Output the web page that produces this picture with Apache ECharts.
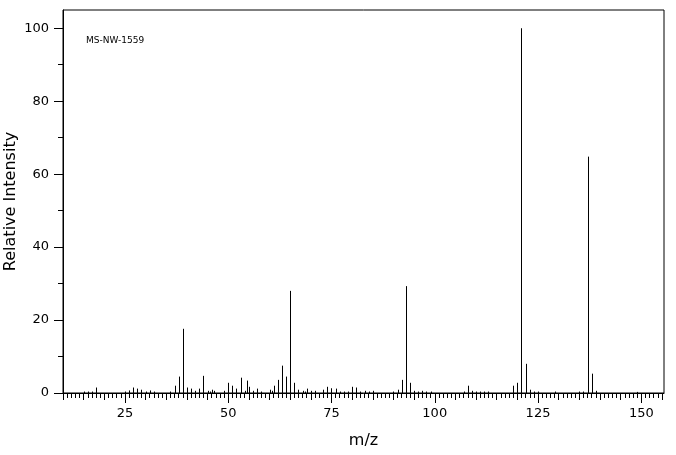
<!DOCTYPE html>
<html>
<head>
<meta charset="utf-8">
<script src="https://cdn.jsdelivr.net/npm/echarts@6/dist/echarts.min.js"></script>
<style>html,body{margin:0;padding:0;background:#fff;}#c{width:676px;height:455px;}</style>
</head>
<body>
<div id="c"></div>
<script>
// ---- data ----
const mz = [15,16,17,18,25,26,27,28,29,30,31,32,36,37,38,39,40,41,42,43,44,45,45.5,46,46.5,49,50,51,52,53,54,54.5,55,56,57,58,60,60.5,61,62,63,64,65,66,67,68,68.5,69,70,71,73,74,75,76,77,78,79,80,81,82,83,84,85,90,91,92,93,94,95,96,97,98,99,107,108,109,110,111,112,113,119,120,121,122,123,124,125,129,135,136,137,138,139,149];
const intensity = [0.4,0.4,0.4,1.5,0.4,0.7,1.5,1.2,0.9,0.4,0.7,0.4,0.4,2.0,4.5,17.6,1.5,1.2,0.6,1.2,4.7,0.6,0.4,0.9,0.6,0.6,2.8,2.0,1.2,4.2,0.6,3.4,1.7,0.6,1.2,0.4,0.9,0.6,2.0,3.6,7.5,4.5,28.0,2.8,0.9,0.6,0.4,1.2,0.6,0.6,0.9,1.7,1.3,1.2,0.4,0.4,0.4,1.7,1.5,0.4,0.6,0.4,0.6,0.4,0.9,3.6,29.3,2.8,0.6,0.4,0.6,0.4,0.4,0.4,2.0,0.6,0.4,0.4,0.4,0.4,2.0,2.8,100,8.0,0.9,0.4,0.4,0.4,0.4,0.4,64.8,5.3,0.6,0.3];
const xTickLabels = [25,50,75,100,125,150];
const yTickLabels = [0,20,40,60,80,100];
const yMinorTicks = [10,30,50,70,90];
const xMin = 10, xMax = 155.5, yMin = 0, yMax = 105;
const sampleName = 'MS-NW-1559';

// ---- build ----
const xUnitTicks = []; for (let v = xMin; v <= 155; v += 1) xUnitTicks.push(v);
const xFiveTicks = []; for (let v = xMin; v <= 155; v += 5) xFiveTicks.push(v);
const peaks = mz.map((m, i) => [m, intensity[i]]);

const FONT = 'DejaVu Sans';
const baseX = {
  type: 'value', min: xMin, max: xMax, position: 'bottom',
  splitLine: { show: false },
  axisLine: { show: false, onZero: false },
  axisLabel: { show: false },
};
const chart = echarts.init(document.getElementById('c'), null, { renderer: 'canvas' });
chart.setOption({
  animation: false,
  backgroundColor: '#fff',
  title: {
    text: sampleName, left: 86, top: 36, padding: 0,
    textStyle: { fontFamily: FONT, fontSize: 9, fontWeight: 'normal', color: '#000' }
  },
  grid: { left: 63, right: 12, top: 10, bottom: 62, containLabel: false, outerBoundsMode: 'none',
          show: true, borderColor: '#000', borderWidth: 1, backgroundColor: 'transparent' },
  xAxis: [
    Object.assign({}, baseX, {
      axisLine: { show: true, onZero: false, lineStyle: { color: '#000', width: 1 } },
      axisTick: { show: true, length: 10, customValues: xTickLabels, lineStyle: { color: '#000' } },
      axisLabel: { show: true, customValues: xTickLabels, margin: 14, color: '#000', fontFamily: FONT, fontSize: 13 },
      name: 'm/z', nameLocation: 'middle', nameGap: 40, nameMoveOverlap: false,
      nameTextStyle: { color: '#000', fontFamily: FONT, fontSize: 16 }
    }),
    Object.assign({}, baseX, {
      axisTick: { show: true, length: 7, customValues: xFiveTicks, lineStyle: { color: '#000' } }
    }),
    Object.assign({}, baseX, {
      axisTick: { show: true, length: 5, customValues: xUnitTicks, lineStyle: { color: '#000' } }
    })
  ],
  yAxis: [
    {
      type: 'value', min: yMin, max: yMax, position: 'left',
      splitLine: { show: false },
      axisLine: { show: true, onZero: false, lineStyle: { color: '#000' } },
      axisTick: { show: true, length: 9, customValues: yTickLabels, lineStyle: { color: '#000' } },
      axisLabel: { customValues: yTickLabels, margin: 14, color: '#000', fontFamily: FONT, fontSize: 13 },
      name: 'Relative Intensity', nameLocation: 'middle', nameGap: 44, nameMoveOverlap: false,
      nameTextStyle: { color: '#000', fontFamily: FONT, fontSize: 16 }
    },
    {
      type: 'value', min: yMin, max: yMax, position: 'left',
      splitLine: { show: false },
      axisLine: { show: false, onZero: false },
      axisTick: { show: true, length: 5, customValues: yMinorTicks, lineStyle: { color: '#000' } },
      axisLabel: { show: false }
    }
  ],
  series: [{
    type: 'custom',
    xAxisIndex: 0, yAxisIndex: 0,
    data: peaks,
    renderItem: function (params, api) {
      const p0 = api.coord([api.value(0), 0]);
      const p1 = api.coord([api.value(0), api.value(1)]);
      const x = Math.round(p0[0]) + 0.5;
      return {
        type: 'line',
        shape: { x1: x, y1: p0[1], x2: x, y2: p1[1] },
        style: { stroke: '#000', lineWidth: 1 }
      };
    }
  }]
});
</script>
</body>
</html>
